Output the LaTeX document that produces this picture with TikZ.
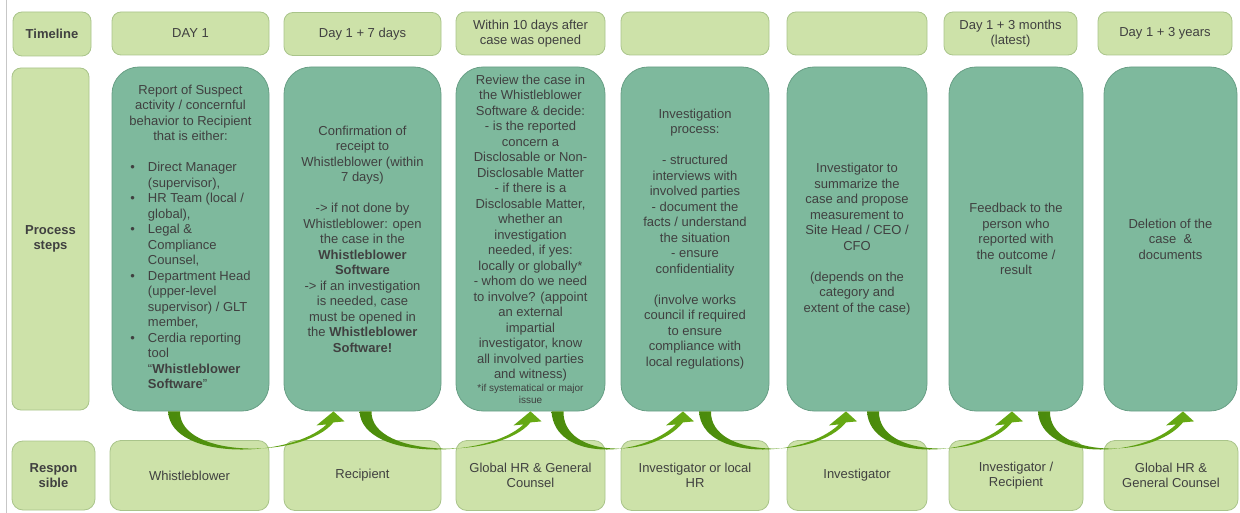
\documentclass[tikz,border=0pt]{standalone}
\usepackage{fontspec}
\setmainfont{Liberation Sans}
\usetikzlibrary{calc}

\definecolor{paleleaf}{HTML}{CDE2A9}
\definecolor{paleedge}{HTML}{A9C48A}
\definecolor{stepfill}{HTML}{7EB99D}
\definecolor{stepedge}{HTML}{689F85}
\definecolor{inkgray}{HTML}{404040}
\definecolor{arrowdark}{HTML}{4A8A0C}
\definecolor{arrowlight}{HTML}{68AB14}

\tikzset{
  palebox/.style={fill=paleleaf, draw=paleedge, line width=0.8pt, rounded corners=9pt},
  daybox/.style={palebox, minimum height=43pt},
  respbox/.style={palebox, rounded corners=11pt, minimum height=70pt},
  stepbox/.style={fill=stepfill, draw=stepedge, line width=0.8pt, rounded corners=27pt, minimum height=344pt},
  bendarrow/.style={left color=arrowdark, right color=arrowlight}
}

% curved green arrow from the bottom of one step box to the next
\newcommand{\bendarrow}[2]{%
  \path[bendarrow] let \p1=(#1), \p2=(#2) in
    (\x1-6pt,\y1) .. controls (\x1-3pt,\y1-50pt) and (\x2-42pt,\y2-47pt) .. (\x2-7pt,\y2-13pt)
    -- (\x2-17pt,\y2-14pt) -- (\x2,\y2) -- (\x2+11pt,\y2-10pt) -- (\x2,\y2-11pt)
    .. controls (\x2-30pt,\y2-48pt) and (\x1+5pt,\y1-47pt) .. (\x1+6pt,\y1) -- cycle;}

\begin{document}
\begin{tikzpicture}[x=1pt,y=-1pt,
  every node/.style={font=\fontsize{13}{15.5}\selectfont, text=inkgray, align=center, inner sep=2pt}]
\useasboundingbox (0,0) rectangle (1240,513);
\draw[black!22, line width=1pt] (6,0) -- (6,513);

% row labels
\node[palebox, minimum width=78pt, minimum height=44pt] (lbltime) at (52,34) {\textbf{Timeline}};
\node[palebox, minimum width=77pt, minimum height=342pt] (lblsteps) at (50.5,239) {\textbf{Process}\\\textbf{steps}};
\node[palebox, rounded corners=11pt, minimum width=83pt, minimum height=69pt] (lblresp) at (53.5,475.5) {\textbf{Respon}\\\textbf{sible}};

% timeline
\node[daybox, minimum width=157pt] (day1) at (190.5,33.5) {DAY 1};
\node[daybox, minimum width=157pt] (day2) at (362.5,34) {Day 1 + 7 days};
\node[daybox, minimum width=149pt] (day3) at (530.5,33.5) {Within 10 days after\\case was opened};
\node[daybox, minimum width=148pt] (day4) at (695,33.5) {};
\node[daybox, minimum width=140pt] (day5) at (857,33.5) {};
\node[daybox, minimum width=133pt] (day6) at (1010.5,33.5) {Day 1 + 3 months\\(latest)};
\node[daybox, minimum width=134pt] (day7) at (1165,33.5) {Day 1 + 3 years};

% process steps
\node[stepbox, minimum width=157pt] (step1) at (190.5,239) {Report of Suspect\\activity / concernful\\behavior to Recipient\\that is either:\\[15.5pt]
  {\begin{tabular}[t]{@{}l@{\hspace{13pt}}l@{}}
  \textbullet & Direct Manager\\
   & (supervisor),\\
  \textbullet & HR Team (local /\\
   & global),\\
  \textbullet & Legal \&\\
   & Compliance\\
   & Counsel,\\
  \textbullet & Department Head\\
   & (upper-level\\
   & supervisor) / GLT\\
   & member,\\
  \textbullet & Cerdia reporting\\
   & tool\\
   & “\textbf{Whistleblower}\\
   & \textbf{Software}”
  \end{tabular}}};
\node[stepbox, minimum width=157pt] (step2) at (362.5,239) {Confirmation of\\receipt to\\Whistleblower (within\\7 days)\\[15.5pt]
  -> if not done by\\Whistleblower: open\\the case in the\\\textbf{Whistleblower}\\\textbf{Software}\\
  -> if an investigation\\is needed, case\\must be opened in\\the \textbf{Whistleblower}\\\textbf{Software!}};
\node[stepbox, minimum width=149pt] (step3) at (530.5,239) {Review the case in\\the Whistleblower\\Software \& decide:\\- is the reported\\concern a\\Disclosable or Non-\\Disclosable Matter\\
  - if there is a\\Disclosable Matter,\\whether an\\investigation\\needed, if yes:\\locally or globally*\\
  - whom do we need\\to involve? (appoint\\an external\\impartial\\investigator, know\\all involved parties\\and witness)\\[-3pt]
  {\fontsize{10}{12}\selectfont *if systematical or major}\\[-3.5pt]{\fontsize{10}{12}\selectfont issue}};
\node[stepbox, minimum width=148pt] (step4) at (695,239) {Investigation\\process:\\[15.5pt]- structured\\interviews with\\involved parties\\- document the\\facts / understand\\the situation\\- ensure\\confidentiality\\[15.5pt]
  (involve works\\council if required\\to ensure\\compliance with\\local regulations)};
\node[stepbox, minimum width=140pt] (step5) at (857,239) {Investigator to\\summarize the\\case and propose\\measurement to\\Site Head / CEO /\\CFO\\[15.5pt](depends on the\\category and\\extent of the case)};
\node[stepbox, minimum width=134pt] (step6) at (1016,239) {Feedback to the\\person who\\reported with\\the outcome /\\result};
\node[stepbox, minimum width=133pt] (step7) at (1170.5,239) {Deletion of the\\case\ \ \&\\documents};

% responsible
\node[respbox, minimum width=159pt] (resp1) at (189.5,475.5) {Whistleblower};
\node[respbox, minimum width=157pt] (resp2) at (362.5,475.5) {Recipient};
\node[respbox, minimum width=149pt] (resp3) at (530.5,475.5) {Global HR \& General\\Counsel};
\node[respbox, minimum width=148pt] (resp4) at (695,475.5) {Investigator or local\\HR};
\node[respbox, minimum width=140pt] (resp5) at (857,475.5) {Investigator};
\node[respbox, minimum width=134pt] (resp6) at (1016,475.5) {Investigator /\\Recipient};
\node[respbox, minimum width=134pt] (resp7) at (1171,475.5) {Global HR \&\\General Counsel};

% arrows between the steps
\bendarrow{$(step1.south)+(-16.5,0)$}{$(step2.south)+(-29,0)$}
\bendarrow{$(step2.south)+(3,0)$}{$(step3.south)+(0,0)$}
\bendarrow{$(step3.south)+(27,0)$}{$(step4.south)+(-12,0)$}
\bendarrow{$(step4.south)+(10,0)$}{$(step5.south)+(-11,0)$}
\bendarrow{$(step5.south)+(16,0)$}{$(step6.south)+(-4,0)$}
\bendarrow{$(step6.south)+(28,0)$}{$(step7.south)+(12.5,0)$}
\end{tikzpicture}
\end{document}
